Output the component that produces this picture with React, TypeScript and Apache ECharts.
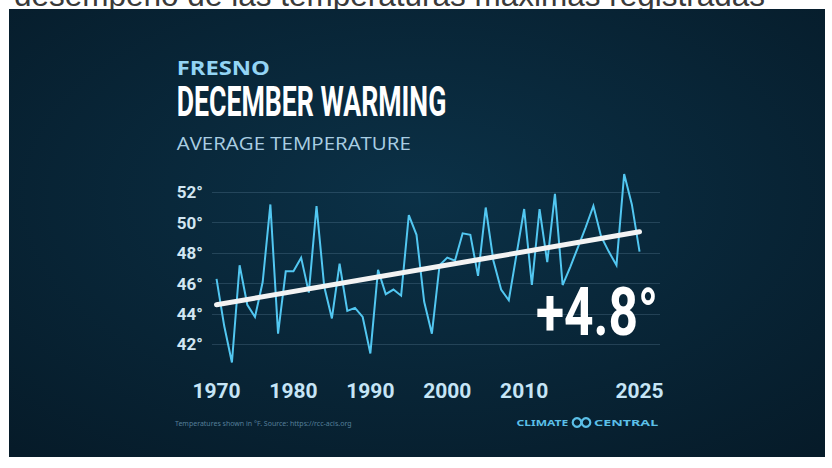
import React, { useEffect, useRef } from "react";
import * as echarts from "echarts";

const years = [
  1970, 1971, 1972, 1973, 1974, 1975, 1976, 1977, 1978, 1979,
  1980, 1981, 1982, 1983, 1984, 1985, 1986, 1987, 1988, 1989,
  1990, 1991, 1992, 1993, 1994, 1995, 1996, 1997, 1998, 1999,
  2000, 2001, 2002, 2003, 2004, 2005, 2006, 2007, 2008, 2009,
  2010, 2011, 2012, 2013, 2014, 2015, 2016, 2017, 2018, 2019,
  2020, 2021, 2022, 2023, 2024, 2025,
];
const temps = [
  46.3, 43.2, 40.8, 47.2, 44.6, 43.8, 46.1, 51.2, 42.7, 46.8,
  46.8, 47.7, 45.4, 51.1, 45.8, 43.7, 47.3, 44.2, 44.4, 43.8,
  41.4, 46.9, 45.3, 45.6, 45.2, 50.5, 49.2, 44.8, 42.7, 47.2,
  47.7, 47.5, 49.3, 49.2, 46.5, 51.0, 47.5, 45.6, 44.9, 47.9,
  50.9, 45.9, 50.9, 47.4, 51.9, 45.9, 47.1, 48.4, 49.7, 51.1,
  49.1, 48.1, 47.2, 53.2, 51.2, 48.1,
];
const trendYears = [1970, 2025];
const trendTemps = [44.6, 49.4];
const xTickLabels = [1970, 1980, 1990, 2000, 2010, 2025];

const LABEL_FONT = 'Roboto, "Liberation Sans", sans-serif';

export default function App() {
  const ref = useRef<HTMLDivElement>(null);
  useEffect(() => {
    const chart = echarts.init(ref.current!, null, { renderer: "svg" });
    const bg = new echarts.graphic.RadialGradient(0.5, 0.42, 0.75, [
      { offset: 0, color: "#0b3147" },
      { offset: 1, color: "#061b29" },
    ]);
    const logoColor = "#5bbfe7";
    chart.setOption({
      animation: false,
      backgroundColor: "#ffffff",
      grid: { left: 212, right: 172, top: 192.3, bottom: 123.7 },
      xAxis: {
        type: "value",
        min: 1969.41,
        max: 2027.66,
        splitLine: { show: false },
        axisLine: { show: false },
        axisTick: { show: false },
        axisLabel: {
          customValues: xTickLabels,
          formatter: (v: number) => String(v),
          color: "#c6e5f6",
          fontSize: 21,
          fontWeight: "bold",
          fontFamily: LABEL_FONT,
          margin: 36,
        },
      },
      yAxis: {
        type: "value",
        min: 42,
        max: 52,
        interval: 2,
        axisLine: { show: false },
        axisTick: { show: false },
        axisLabel: {
          formatter: "{value}°",
          color: "#d2e6f2",
          fontSize: 17,
          fontWeight: "bold",
          fontFamily: LABEL_FONT,
          margin: 9,
        },
        splitLine: { lineStyle: { color: "rgba(130,170,195,0.22)", width: 1 } },
      },
      series: [
        {
          type: "line",
          data: years.map((y, i) => [y, temps[i]]),
          showSymbol: false,
          clip: false,
          z: 3,
          lineStyle: { color: "#52c7f1", width: 2, join: "miter", miterLimit: 10 },
        },
        {
          type: "line",
          data: trendYears.map((y, i) => [y, trendTemps[i]]),
          showSymbol: false,
          clip: false,
          z: 4,
          lineStyle: { color: "#f3f3f3", width: 5, cap: "round" },
        },
      ],
      graphic: [
        {
          type: "text",
          z: -11,
          x: 14,
          y: 11,
          style: {
            text: "desempeño de las temperaturas máximas registradas",
            fill: "#3a3a3a",
            font: '31.5px "Liberation Sans", Arial, sans-serif',
            verticalAlign: "bottom",
          },
        },
        {
          type: "rect",
          z: -10,
          shape: { x: 9, y: 9, width: 816, height: 448 },
          style: { fill: bg },
        },
        {
          type: "text",
          x: 176.7,
          y: 67,
          scaleX: 1.25,
          style: {
            text: "FRESNO",
            fill: "#93d4f4",
            font: 'bold 19px "Open Sans", "Noto Sans", sans-serif',
            verticalAlign: "middle",
          },
        },
        {
          type: "text",
          x: 176.7,
          y: 102,
          scaleX: 0.62,
          style: {
            text: "DECEMBER WARMING",
            fill: "#ffffff",
            font: "bold 43px Roboto, sans-serif",
            verticalAlign: "middle",
          },
        },
        {
          type: "text",
          x: 176.7,
          y: 144,
          scaleX: 1.17,
          style: {
            text: "AVERAGE TEMPERATURE",
            fill: "#a9cee3",
            font: '17.5px "Open Sans", "Noto Sans", sans-serif',
            verticalAlign: "middle",
          },
        },
        {
          type: "text",
          x: 658,
          y: 312,
          scaleX: 0.78,
          z: 5,
          style: {
            text: "+4.8°",
            fill: "#ffffff",
            font: "bold 66px Roboto, sans-serif",
            align: "right",
            verticalAlign: "middle",
          },
        },
        {
          type: "text",
          x: 175,
          y: 423,
          style: {
            text: "Temperatures shown in °F. Source: https://rcc-acis.org",
            fill: "#557f99",
            font: '7px "Noto Sans", sans-serif',
            verticalAlign: "middle",
          },
        },
        {
          type: "text",
          x: 516.6,
          y: 422.5,
          scaleX: 1.27,
          style: {
            text: "CLIMATE",
            fill: logoColor,
            font: 'bold 9.5px "Noto Sans", sans-serif',
            verticalAlign: "middle",
          },
        },
        {
          type: "circle",
          shape: { cx: 577, cy: 422.5, r: 4.3 },
          style: { fill: "none", stroke: logoColor, lineWidth: 2.2 },
        },
        {
          type: "circle",
          shape: { cx: 586, cy: 422.5, r: 4.3 },
          style: { fill: "none", stroke: logoColor, lineWidth: 2.2 },
        },
        {
          type: "text",
          x: 594,
          y: 422.5,
          scaleX: 1.5,
          style: {
            text: "CENTRAL",
            fill: logoColor,
            font: 'bold 9.5px "Noto Sans", sans-serif',
            verticalAlign: "middle",
          },
        },
      ],
    });
    return () => chart.dispose();
  }, []);
  return (
    <div
      ref={ref}
      style={{ position: "fixed", left: 0, top: 0, width: 832, height: 468 }}
    />
  );
}
